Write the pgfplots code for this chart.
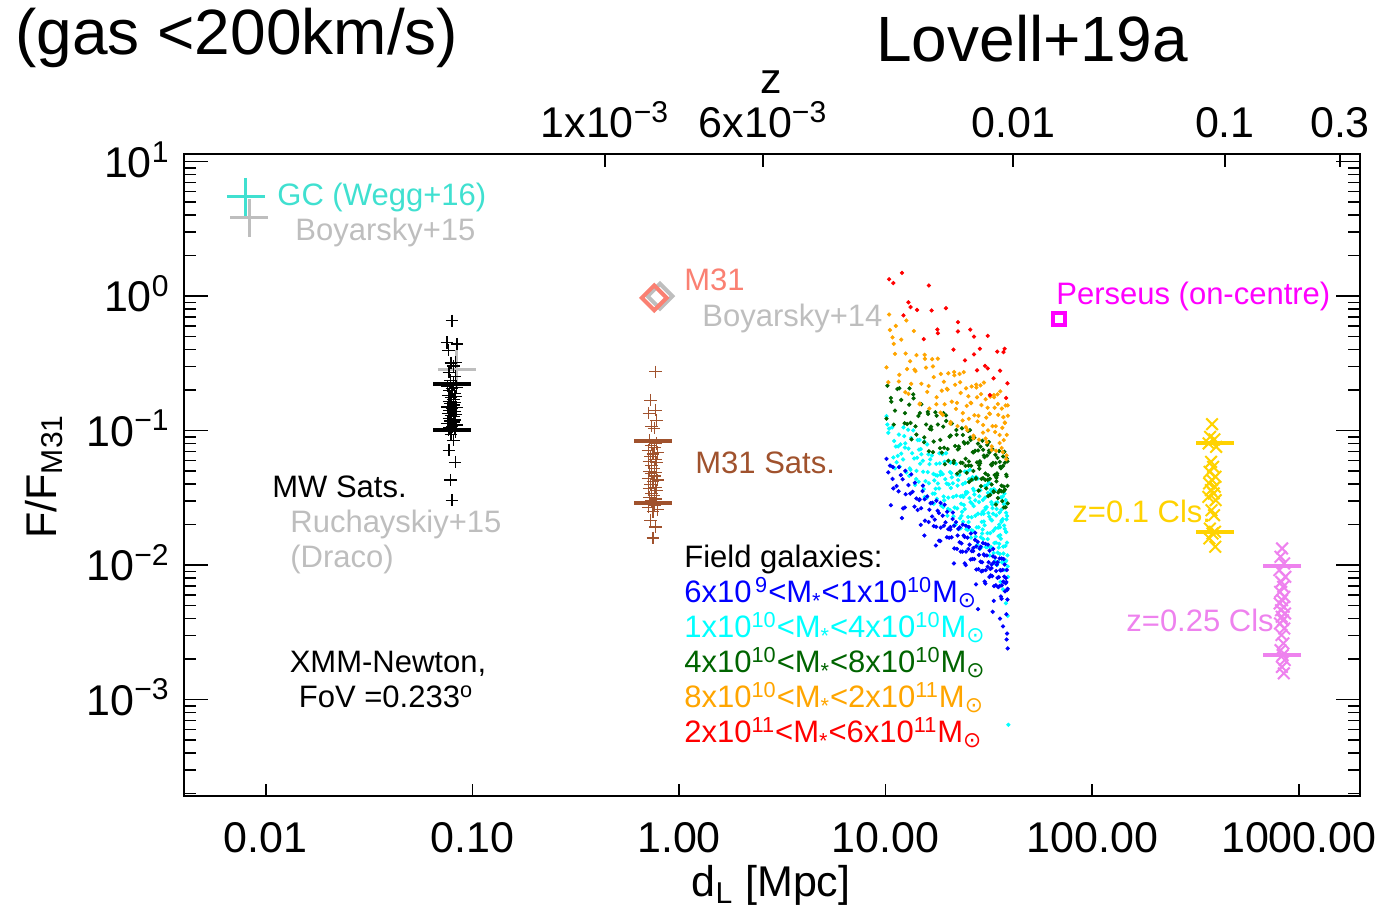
\documentclass[border=0pt]{standalone}
\usepackage{fontspec}
\setmainfont{Liberation Sans}
\newfontfamily\dejavu{DejaVu Sans}
\usepackage{pgfplots}
\pgfplotsset{compat=1.18}
\definecolor{turq}{RGB}{64,224,208}
\definecolor{lgray}{RGB}{190,190,190}
\definecolor{salmonc}{RGB}{250,128,114}
\definecolor{siennac}{RGB}{160,82,45}
\definecolor{magc}{RGB}{255,0,255}
\definecolor{goldc}{RGB}{255,210,0}
\definecolor{violetc}{RGB}{238,130,238}
\definecolor{fblue}{RGB}{0,0,255}
\definecolor{fcyan}{RGB}{0,255,255}
\definecolor{fgreen}{RGB}{0,100,0}
\definecolor{forange}{RGB}{255,165,0}
\definecolor{fred}{RGB}{255,0,0}
\newcommand{\ex}[1]{\textsuperscript{#1}}
\newcommand{\sun}{\textsubscript{\dejavu ⊙}}
\newcommand{\mst}{M\textsubscript{*}}
\begin{document}
\begin{tikzpicture}
\useasboundingbox (-92pt,-57.15pt) rectangle (599.5pt,397.85pt);
\begin{axis}[
  at={(0,0)}, anchor=south west,
  scale only axis, width=588pt, height=320.85pt,
  xmode=log, ymode=log,
  xmin=0.00402, xmax=1977, ymin=1.93e-4, ymax=11.4,
  axis line style={line width=1pt},
  every tick/.style={black, line width=0.75pt},
  xtick={0.01,0.1,1,10,100,1000},
  xticklabels={0.01,0.10,1.00,10.00,100.00,1000.00},
  xminorticks=false,
  xtick pos=left,
  ytick={0.001,0.01,0.1,1,10},
  yticklabels={10\ex{−3},10\ex{−2},10\ex{−1},10\ex{0},10\ex{1}},
  minor ytick={2e-4,3e-4,4e-4,5e-4,6e-4,7e-4,8e-4,9e-4,
    2e-3,3e-3,4e-3,5e-3,6e-3,7e-3,8e-3,9e-3,
    0.02,0.03,0.04,0.05,0.06,0.07,0.08,0.09,
    0.2,0.3,0.4,0.5,0.6,0.7,0.8,0.9,2,3,4,5,6,7,8,9},
  major tick length=12pt, minor tick length=6pt,
  xtick style={/pgfplots/major tick length=6pt},
  tick label style={font=\fontsize{21.5}{24}\selectfont},
  xticklabel style={anchor=north, inner sep=0pt, yshift=-13.4pt},
  yticklabel style={anchor=base east, inner sep=0pt, xshift=-7pt, yshift=-7.7pt},
]
% field galaxies
\addplot[only marks, mark=*, mark size=0.85pt, fcyan] coordinates {
(10.1,0.128) (10.9,0.0632) (10.3,0.0964) (11.2,0.0762) (10.2,0.111) (10.6,0.0548) (11.0,0.0838) (10.4,0.1035)
(12.6,0.0489) (11.5,0.0764) (12.2,0.1057) (11.3,0.0582) (12.3,0.0910) (11.9,0.0675) (12.45,0.0804) (11.7,0.0540)
(12.9,0.0735) (13.9,0.0394) (13.3,0.0881) (14.2,0.0628) (13.1,0.0524) (13.6,0.1005) (14.05,0.0437) (13.45,0.0679)
(15.6,0.0421) (14.5,0.0723) (15.2,0.0495) (14.3,0.0851) (15.3,0.0367) (14.9,0.0667) (15.45,0.0321) (14.7,0.0568)
(15.9,0.0789) (16.9,0.0340) (16.3,0.0564) (17.2,0.0426) (16.1,0.0667) (16.6,0.0288) (17.05,0.0476) (16.45,0.0612)
(18.6,0.0277) (17.5,0.0467) (18.2,0.0679) (17.3,0.0340) (18.3,0.0571) (17.9,0.0404) (18.45,0.0494) (17.7,0.0311)
(18.9,0.0475) (19.9,0.0233) (19.3,0.0586) (20.2,0.0398) (19.1,0.0324) (19.6,0.0679) (20.05,0.0262) (19.45,0.0436)
(21.6,0.0268) (20.5,0.0492) (21.2,0.0321) (20.3,0.0590) (21.3,0.0230) (20.9,0.0450) (21.45,0.0198) (20.7,0.0374)
(21.9,0.0566) (22.9,0.0223) (22.3,0.0390) (23.2,0.0286) (22.1,0.0470) (22.6,0.0185) (23.05,0.0324) (22.45,0.0429)
(24.6,0.0185) (23.5,0.0328) (24.2,0.0497) (23.3,0.0232) (24.3,0.0410) (23.9,0.0280) (24.45,0.0350) (23.7,0.0210)
(24.9,0.0347) (25.9,0.0160) (25.3,0.0436) (26.2,0.0286) (25.1,0.0228) (25.6,0.0512) (26.05,0.0182) (25.45,0.0315)
(27.6,0.0191) (26.5,0.0370) (27.2,0.0233) (26.3,0.0451) (27.3,0.0163) (26.9,0.0335) (27.45,0.0138) (26.7,0.0275)
(27.9,0.0440) (28.9,0.0161) (28.3,0.0294) (29.2,0.0210) (28.1,0.0360) (28.6,0.0132) (29.05,0.0240) (28.45,0.0325)
(30.6,0.0136) (29.5,0.0250) (30.2,0.0389) (29.3,0.0172) (30.3,0.0318) (29.9,0.0211) (30.45,0.0268) (29.7,0.0156)
(30.9,0.0270) (31.9,0.0118) (31.3,0.0344) (32.2,0.0220) (31.1,0.0173) (31.6,0.0409) (32.05,0.0136) (31.45,0.0244)
(33.6,0.0146) (32.5,0.0294) (33.2,0.0180) (32.3,0.0363) (33.3,0.0123) (32.9,0.0265) (33.45,0.0103) (32.7,0.0215)
(33.9,0.0359) (34.9,0.0124) (34.3,0.0234) (35.2,0.0164) (34.1,0.0290) (34.6,0.0100) (35.05,0.0190) (34.45,0.0261)
(36.6,0.0105) (35.5,0.0200) (36.2,0.0319) (35.3,0.0135) (36.3,0.0258) (35.9,0.0167) (36.45,0.0215) (35.7,0.0121)
(36.9,0.0220) (37.9,0.00920) (37.3,0.0284) (38.2,0.0177) (37.1,0.0137) (37.6,0.0340) (38.05,0.0106) (37.45,0.0197)
(38.9,0.0118) (38.3,0.0245) (38.7,0.0147) (38.1,0.0305) (39.0,0.00980) (38.5,0.0219) (39.1,0.00817) (38.4,0.0176)
(39.0,0.0042) (39.3,0.00065) (38.2,0.0052) (37.0,0.0066) (36.0,0.0075)
(10.75,0.1057) (11.45,0.0650) (11.8,0.0791) (11.1,0.0524) (11.6,0.0935)
(13.2,0.0511) (12.4,0.0748) (12.85,0.1016) (12.15,0.0611) (13.0,0.0461)
(13.75,0.0621) (14.45,0.0417) (14.8,0.0728) (14.1,0.0502) (14.6,0.0853)
(16.2,0.0406) (15.4,0.0830) (15.85,0.0317) (15.15,0.0597) (16.0,0.0492)
(16.75,0.0653) (17.45,0.0370) (17.8,0.0463) (17.1,0.0286) (17.6,0.0566)
(19.2,0.0303) (18.4,0.0470) (18.85,0.0668) (18.15,0.0372) (19.0,0.0270)
(19.75,0.0404) (20.45,0.0257) (20.8,0.0483) (20.1,0.0318) (20.6,0.0579)
(22.2,0.0264) (21.4,0.0587) (21.85,0.0200) (21.15,0.0406) (22.0,0.0328)
(22.75,0.0467) (23.45,0.0249) (23.8,0.0321) (23.1,0.0188) (23.6,0.0400)
(25.2,0.0209) (24.4,0.0337) (24.85,0.0495) (24.15,0.0261) (25.0,0.0183)
(25.75,0.0294) (26.45,0.0180) (26.8,0.0358) (26.1,0.0227) (26.6,0.0435)
(28.2,0.0191) (27.4,0.0452) (27.85,0.0142) (27.15,0.0303) (28.0,0.0241)
(28.75,0.0361) (29.45,0.0184) (29.8,0.0241) (29.1,0.0136) (29.6,0.0305)
(31.2,0.0156) (30.4,0.0260) (30.85,0.0391) (30.15,0.0198) (31.0,0.0136)
(31.75,0.0229) (32.45,0.0136) (32.8,0.0282) (32.1,0.0173) (32.6,0.0348)
(34.2,0.0147) (33.4,0.0367) (33.85,0.0107) (33.15,0.0241) (34.0,0.0188)
(34.75,0.0293) (35.45,0.0144) (35.8,0.0191) (35.1,0.0105) (35.6,0.0246)
(37.2,0.0122) (36.4,0.0210) (36.85,0.0323) (36.15,0.0157) (37.0,0.0106)
(37.7,0.0186) (38.35,0.0108) (38.7,0.0232) (38.0,0.0139) (38.55,0.0288)
};
\addplot[only marks, mark=*, mark size=0.85pt, fblue] coordinates {
(10.1,0.0617) (10.8,0.0437) (10.3,0.0490) (10.9,0.0372) (10.5,0.0550)
(12.5,0.0337) (11.6,0.0535) (12.1,0.0435) (11.3,0.0387) (12.4,0.0268)
(12.9,0.0394) (13.8,0.0272) (13.3,0.0473) (14.1,0.0313) (13.5,0.0351)
(15.5,0.0214) (14.6,0.0309) (15.1,0.0355) (14.3,0.0257) (15.4,0.0166)
(15.9,0.0324) (16.8,0.0230) (16.3,0.0258) (17.1,0.0195) (16.5,0.0289)
(18.5,0.0190) (17.6,0.0301) (18.1,0.0244) (17.3,0.0218) (18.4,0.0151)
(18.9,0.0233) (19.8,0.0161) (19.3,0.0281) (20.1,0.0185) (19.5,0.0208)
(21.5,0.0133) (20.6,0.0192) (21.1,0.0220) (20.3,0.0160) (21.4,0.0103)
(21.9,0.0209) (22.8,0.0148) (22.3,0.0166) (23.1,0.0126) (22.5,0.0186)
(24.5,0.0126) (23.6,0.0200) (24.1,0.0162) (23.3,0.0145) (24.4,0.0100)
(24.9,0.0160) (25.8,0.0110) (25.3,0.0192) (26.1,0.0127) (25.5,0.0142)
(27.5,0.00927) (26.6,0.0134) (27.1,0.0154) (26.3,0.0111) (27.4,0.00719)
(27.9,0.0149) (28.8,0.0106) (28.3,0.0119) (29.1,0.00900) (28.5,0.0133)
(30.5,0.00918) (29.6,0.0146) (30.1,0.0118) (29.3,0.0105) (30.4,0.00729)
(30.9,0.0118) (31.8,0.00817) (31.3,0.0142) (32.1,0.00938) (31.5,0.0105)
(33.5,0.00698) (32.6,0.0101) (33.1,0.0116) (32.3,0.00839) (33.4,0.00542)
(33.9,0.0114) (34.8,0.00805) (34.3,0.00904) (35.1,0.00686) (34.5,0.0101)
(36.5,0.00708) (35.6,0.0112) (36.1,0.00912) (35.3,0.00813) (36.4,0.00562)
(36.9,0.00923) (37.8,0.00638) (37.3,0.0111) (38.1,0.00733) (37.5,0.00822)
(38.9,0.00555) (38.2,0.00802) (38.6,0.00920) (39.0,0.00667) (38.4,0.00431)
(10.6,0.0279) (12.0,0.0224) (28.0,0.0047) (33.0,0.0045) (37.0,0.0035) (38.5,0.0028)
(35.8,0.0040) (39.0,0.0024) (38.7,0.0031) (14.8,0.0199) (17.5,0.0140)
(10.85,0.0536) (11.55,0.0354) (11.85,0.0467)
(13.15,0.0340) (12.45,0.0503) (12.15,0.0264)
(13.85,0.0410) (14.55,0.0304) (14.85,0.0265)
(16.15,0.0209) (15.45,0.0309) (15.15,0.0390)
(16.85,0.0291) (17.55,0.0193) (17.85,0.0254)
(19.15,0.0196) (18.45,0.0290) (18.15,0.0152)
(19.85,0.0249) (20.55,0.0184) (20.85,0.0161)
(22.15,0.0132) (21.45,0.0196) (21.15,0.0246)
(22.85,0.0191) (23.55,0.0126) (23.85,0.0166)
(25.15,0.0132) (24.45,0.0196) (24.15,0.0103)
(25.85,0.0172) (26.55,0.0127) (26.85,0.0111)
(28.15,0.00934) (27.45,0.0138) (27.15,0.0174)
(28.85,0.0137) (29.55,0.00909) (29.85,0.0120)
(31.15,0.00972) (30.45,0.0144) (30.15,0.00754)
(31.85,0.0128) (32.55,0.00951) (32.85,0.00828)
(34.15,0.00708) (33.45,0.0105) (33.15,0.0132)
(34.85,0.0105) (35.55,0.00697) (35.85,0.00918)
(37.15,0.00754) (36.45,0.0112) (36.15,0.00585)
(37.7,0.0101) (38.4,0.00749) (38.7,0.00652)
};
\addplot[only marks, mark=*, mark size=0.85pt, fgreen] coordinates {
(10.2,0.216) (11.1,0.141) (10.6,0.175) (10.1,0.123)
(12.4,0.135) (11.4,0.204) (12.7,0.112) (11.9,0.169)
(13.0,0.156) (14.1,0.0935) (13.6,0.186) (13.2,0.114)
(15.4,0.0891) (14.4,0.1285) (15.7,0.111) (14.9,0.157)
(16.0,0.138) (17.1,0.0830) (16.6,0.107) (16.2,0.0702)
(18.4,0.0853) (17.4,0.137) (18.7,0.0687) (17.9,0.111)
(19.0,0.107) (20.1,0.0597) (19.6,0.130) (19.2,0.0746)
(21.4,0.0598) (20.4,0.0902) (21.7,0.0769) (20.9,0.113)
(22.0,0.101) (23.1,0.0577) (22.6,0.0764) (22.2,0.0479)
(24.4,0.0618) (23.4,0.104) (24.7,0.0486) (23.9,0.0822)
(25.0,0.0811) (26.1,0.0431) (25.6,0.1007) (25.2,0.0550)
(27.4,0.0443) (26.4,0.0692) (27.7,0.0581) (26.9,0.0885)
(28.0,0.0800) (29.1,0.0438) (28.6,0.0592) (28.2,0.0358)
(30.4,0.0480) (29.4,0.0841) (30.7,0.0372) (29.9,0.0652)
(31.0,0.0653) (32.1,0.0333) (31.6,0.0824) (31.2,0.0431)
(33.4,0.0349) (32.4,0.0560) (33.7,0.0467) (32.9,0.0728)
(34.0,0.0661) (35.1,0.0348) (34.6,0.0480) (34.2,0.0282)
(36.4,0.0390) (35.4,0.0705) (36.7,0.0299) (35.9,0.0538)
(37.0,0.0546) (38.1,0.0269) (37.6,0.0697) (37.2,0.0353)
(39.0,0.0288) (38.4,0.0471) (38.9,0.0389) (38.6,0.0619)
(24.1,0.0802) (23.6,0.0575) (25.8,0.0851) (25.3,0.0590) (27.1,0.0708) (26.6,0.0501)
(28.8,0.0760) (28.4,0.0521) (30.1,0.0635) (29.6,0.0444) (31.8,0.0687) (31.3,0.0466)
(33.1,0.0575) (32.6,0.0398) (34.8,0.0627) (34.4,0.0420) (36.1,0.0525) (35.6,0.0360)
(37.8,0.0577) (37.3,0.0384)
(11.65,0.2065) (10.95,0.111) (10.65,0.164)
(12.35,0.1135) (13.05,0.2065) (13.35,0.0861)
(14.65,0.135) (13.95,0.1075) (13.65,0.174)
(15.35,0.0820) (16.05,0.133) (16.35,0.103)
(17.65,0.129) (16.95,0.0692) (16.65,0.102)
(18.35,0.0741) (19.05,0.135) (19.35,0.0562)
(20.65,0.0919) (19.95,0.0730) (19.65,0.118)
(21.35,0.0575) (22.05,0.0932) (22.35,0.0724)
(23.65,0.0928) (22.95,0.0498) (22.65,0.0737)
(24.35,0.0547) (25.05,0.0994) (25.35,0.0415)
(26.65,0.0690) (25.95,0.0548) (25.65,0.0889)
(27.35,0.0439) (28.05,0.0712) (28.35,0.0553)
(29.65,0.0720) (28.95,0.0387) (28.65,0.0572)
(30.35,0.0430) (31.05,0.0783) (31.35,0.0326)
(32.65,0.0551) (31.95,0.0438) (31.65,0.0710)
(33.35,0.0354) (34.05,0.0574) (34.35,0.0446)
(35.65,0.0586) (34.95,0.0315) (34.65,0.0466)
(36.35,0.0354) (37.05,0.0643) (37.35,0.0268)
(38.5,0.0458) (37.8,0.0364) (38.9,0.0590)
};
\addplot[only marks, mark=*, mark size=0.85pt, forange] coordinates {
(10.8,0.493) (10.1,0.295) (11.1,0.372) (10.3,0.229)
(11.6,0.232) (12.5,0.374) (11.9,0.475) (12.7,0.287)
(13.8,0.284) (12.9,0.1875) (14.1,0.364) (13.3,0.223)
(14.6,0.157) (15.5,0.342) (14.9,0.223) (15.7,0.294)
(16.8,0.340) (15.9,0.194) (17.1,0.250) (16.3,0.146)
(17.6,0.157) (18.5,0.264) (17.9,0.343) (18.7,0.198)
(19.8,0.205) (18.9,0.131) (20.1,0.267) (19.3,0.157)
(20.6,0.1125) (21.5,0.258) (20.9,0.164) (21.7,0.219)
(22.8,0.264) (21.9,0.145) (23.1,0.1905) (22.3,0.108)
(23.6,0.119) (24.5,0.2065) (23.9,0.272) (24.7,0.153)
(25.8,0.161) (24.9,0.1007) (26.1,0.213) (25.3,0.1225)
(26.6,0.0877) (27.5,0.209) (26.9,0.130) (27.7,0.177)
(28.8,0.217) (27.9,0.117) (29.1,0.155) (28.3,0.0857)
(29.6,0.0966) (30.5,0.171) (29.9,0.2275) (30.7,0.125)
(31.8,0.134) (30.9,0.0820) (32.1,0.179) (31.3,0.1005)
(32.6,0.0718) (33.5,0.177) (32.9,0.108) (33.7,0.148)
(34.8,0.186) (33.9,0.0977) (35.1,0.131) (34.3,0.0708)
(35.6,0.0809) (36.5,0.146) (35.9,0.196) (36.7,0.105)
(37.8,0.115) (36.9,0.0692) (38.1,0.154) (37.3,0.0851)
(38.4,0.0612) (39.0,0.154) (38.6,0.0929) (39.1,0.129)
(10.4,0.73) (10.5,0.56) (12.6,0.66) (13.7,0.55) (11.2,0.60)
(10.95,0.442) (11.65,0.260) (12.45,0.193) (13.15,0.328)
(13.95,0.277) (14.65,0.159) (15.45,0.366) (16.15,0.215)
(16.95,0.300) (17.65,0.177) (18.45,0.136) (19.15,0.231)
(19.95,0.202) (20.65,0.116) (21.45,0.273) (22.15,0.161)
(22.95,0.229) (23.65,0.135) (24.45,0.106) (25.15,0.180)
(25.95,0.160) (26.65,0.0918) (27.45,0.220) (28.15,0.129)
(28.95,0.187) (29.65,0.110) (30.45,0.0874) (31.15,0.148)
(31.95,0.133) (32.65,0.0763) (33.45,0.184) (34.15,0.108)
(34.95,0.158) (35.65,0.0928) (36.45,0.0743) (37.15,0.126)
(37.8,0.114) (38.5,0.0655)
};
\addplot[only marks, mark=*, mark size=0.85pt, fred] coordinates {
(10.4,1.334) (12.2,0.719) (13.2,0.830) (15.3,0.479) (16.7,0.783) (17.8,0.565) (19.6,0.813)
(21.3,0.400) (22.4,0.546) (24.2,0.333) (25.7,0.564) (26.8,0.369) (28.6,0.406) (30.3,0.303)
(31.2,0.507) (33.3,0.245) (34.7,0.387) (35.8,0.279) (37.7,0.406) (38.9,0.225)
(12.0,1.49) (10.9,1.25) (16.2,1.2) (12.9,0.90) (14.2,0.79) (22.4,0.64) (26.8,0.50)
(17.9,0.53) (37.2,0.383) (38.3,0.175) (32.0,0.184) (27.7,0.281) (31.2,0.29)
};
% Galactic centre
\addplot[only marks, mark=+, mark size=9.5pt, line width=1.5pt, lgray] coordinates {(0.0083,3.82)};
\addplot[only marks, mark=+, mark size=9.5pt, line width=1.5pt, turq] coordinates {(0.00802,5.47)};
% Draco
\addplot[only marks, mark=+, mark size=9.5pt, line width=1.5pt, lgray] coordinates {(0.0842,0.286)};
% MW sats
\addplot[only marks, mark=+, mark size=3.15pt, line width=0.6pt, black] coordinates {
(0.0797,0.655) (0.0753,0.453) (0.0843,0.440) (0.0765,0.397) (0.0830,0.323) (0.0788,0.318)
(0.0808,0.302) (0.0770,0.272) (0.0825,0.254) (0.0783,0.237) (0.0812,0.225) (0.0760,0.215)
(0.0840,0.21) (0.0797,0.205) (0.0776,0.198) (0.0818,0.19) (0.0765,0.183) (0.0830,0.18)
(0.0788,0.176) (0.0808,0.17) (0.0770,0.165) (0.0825,0.162) (0.0783,0.16) (0.0812,0.155)
(0.0760,0.15) (0.0840,0.148) (0.0797,0.146) (0.0776,0.142) (0.0818,0.138) (0.0765,0.134)
(0.0830,0.131) (0.0788,0.13) (0.0808,0.127) (0.0770,0.123) (0.0825,0.12) (0.0783,0.118)
(0.0812,0.116) (0.0760,0.113) (0.0840,0.11) (0.0797,0.107) (0.0776,0.105) (0.0818,0.104)
(0.0765,0.101) (0.0830,0.098) (0.0788,0.094) (0.0808,0.085) (0.0770,0.0716) (0.0825,0.0583)
(0.0783,0.0429) (0.0797,0.0304)
};
\addplot[only marks, mark=-, mark size=9.3pt, line width=2pt, black] coordinates {(0.0797,0.222) (0.0797,0.1007)};
% M31
\addplot[only marks, mark=square, mark size=4.4pt, line width=2pt, lgray, mark options={rotate=45}] coordinates {(0.809,1.0)};
\addplot[only marks, mark=square, mark size=4.4pt, line width=2pt, salmonc, mark options={rotate=45}] coordinates {(0.759,0.971)};
% M31 sats
\addplot[only marks, mark=+, mark size=3.15pt, line width=0.6pt, siennac] coordinates {
(0.770,0.2735) (0.728,0.1686) (0.768,0.142) (0.715,0.135) (0.780,0.1197) (0.738,0.108)
(0.758,0.1044) (0.722,0.085) (0.775,0.080) (0.733,0.078) (0.763,0.075) (0.710,0.071)
(0.790,0.069) (0.748,0.067) (0.728,0.064) (0.768,0.061) (0.715,0.059) (0.780,0.058)
(0.738,0.055) (0.758,0.052) (0.722,0.050) (0.775,0.049) (0.733,0.048) (0.763,0.046)
(0.710,0.044) (0.790,0.043) (0.748,0.042) (0.728,0.040) (0.768,0.038) (0.715,0.037)
(0.780,0.036) (0.738,0.034) (0.758,0.033) (0.722,0.032) (0.775,0.031) (0.733,0.030)
(0.763,0.028) (0.710,0.027) (0.790,0.026) (0.748,0.025) (0.728,0.0216) (0.768,0.0192)
(0.748,0.0159)
};
\addplot[only marks, mark=-, mark size=9.5pt, line width=2pt, siennac] coordinates {(0.748,0.0836) (0.748,0.0292)};
% Perseus
\addplot[only marks, mark=square, mark size=3pt, line width=2pt, magc] coordinates {(69.3,0.671)};
% z=0.1 clusters
\addplot[only marks, mark=x, mark size=4.1pt, line width=1pt, goldc] coordinates {
(380,0.1117) (372,0.0899) (390,0.0861) (366,0.0803) (398,0.0758) (376,0.0586) (385,0.0538)
(370,0.0494) (395,0.0454) (380,0.0429) (368,0.0405) (392,0.0382) (375,0.0361) (387,0.0341)
(365,0.0322) (396,0.0304) (378,0.0256) (389,0.0235) (371,0.0187) (393,0.0177) (382,0.0172)
(369,0.0158) (394,0.0137)
};
\addplot[only marks, mark=-, mark size=9.5pt, line width=2pt, goldc] coordinates {(391,0.0803) (391,0.0177)};
% z=0.25 clusters
\addplot[only marks, mark=x, mark size=4.1pt, line width=1pt, violetc] coordinates {
(830,0.0133) (815,0.01153) (848,0.0103) (805,0.00918) (860,0.00819) (822,0.00751) (840,0.0069)
(812,0.00633) (852,0.00581) (830,0.00549) (808,0.00519) (845,0.0049) (820,0.00462) (858,0.00437)
(826,0.00413) (838,0.0039) (810,0.00368) (850,0.00338) (824,0.00302) (842,0.00262) (816,0.00233)
(835,0.00214) (855,0.00197) (828,0.00175) (846,0.00157)
};
\addplot[only marks, mark=-, mark size=9.5pt, line width=2pt, violetc] coordinates {(830,0.00988) (830,0.00214)};
\end{axis}
% top redshift axis
\begin{axis}[
  at={(0,0)}, anchor=south west,
  scale only axis, width=588pt, height=320.85pt,
  xmode=log, ymode=log,
  xmin=0.00402, xmax=1977, ymin=1.93e-4, ymax=11.4,
  axis line style={line width=1pt},
  every tick/.style={black, line width=0.75pt},
  ytick=\empty, yminorticks=false,
  xtick={0.438,2.55,41.4,439,1582},
  xticklabels={1x10\ex{−3},6x10\ex{−3},0.01,0.1,0.3},
  xminorticks=false,
  xtick pos=right, xticklabel pos=right,
  major tick length=6.5pt,
  tick label style={font=\fontsize{21.5}{24}\selectfont},
  xticklabel style={anchor=base, inner sep=0pt, yshift=8.3pt},
]
\end{axis}
\begin{scope}[every node/.style={inner sep=0pt}]
% titles and axis labels
\node[anchor=base west, font=\fontsize{32}{36}\selectfont] at (-84.5pt,370.35pt) {(gas <200km/s)};
\node[anchor=base west, font=\fontsize{32}{36}\selectfont] at (346pt,366.85pt) {Lovell+19a};
\node[anchor=base, font=\fontsize{21.5}{24}\selectfont] at (293.5pt,351pt) {z};
\node[anchor=base, font=\fontsize{21.5}{24}\selectfont] at (293.5pt,-50.65pt) {d\textsubscript{L} [Mpc]};
\node[rotate=90, font=\fontsize{21.5}{24}\selectfont] at (-70pt,159.6pt) {F/F\textsubscript{M31}};
% annotations
\begin{scope}[every node/.append style={anchor=base west, font=\fontsize{15.5}{17.5}\selectfont}]
\node[text=turq] at (46.5pt,294.85pt) {GC (Wegg+16)};
\node[text=lgray] at (55.5pt,277.35pt) {Boyarsky+15};
\node[text=salmonc] at (250pt,252.35pt) {M31};
\node[text=lgray] at (259pt,234.35pt) {Boyarsky+14};
\node[text=magc] at (436pt,245.35pt) {Perseus (on-centre)};
\node[text=siennac] at (255.5pt,160.85pt) {M31 Sats.};
\node[text=black] at (44pt,148.85pt) {MW Sats.};
\node[text=lgray] at (53pt,131.35pt) {Ruchayskiy+15};
\node[text=lgray] at (53pt,113.85pt) {(Draco)};
\node[text=black] at (250pt,113.85pt) {Field galaxies:};
\node[text=fblue] at (250pt,96.35pt) {6x10\ex{\,9}<\mst<1x10\ex{10}M\sun};
\node[text=fcyan] at (250pt,78.85pt) {1x10\ex{10}<\mst<4x10\ex{10}M\sun};
\node[text=fgreen] at (250pt,61.35pt) {4x10\ex{10}<\mst<8x10\ex{10}M\sun};
\node[text=forange] at (250pt,43.85pt) {8x10\ex{10}<\mst<2x10\ex{11}M\sun};
\node[text=fred] at (250pt,26.35pt) {2x10\ex{11}<\mst<6x10\ex{11}M\sun};
\node[text=goldc] at (444pt,136.35pt) {z=0.1 Cls.};
\node[text=violetc] at (471pt,81.85pt) {z=0.25 Cls};
\end{scope}
\node[anchor=base, font=\fontsize{15.5}{17.5}\selectfont] at (102pt,61.35pt) {XMM-Newton,};
\node[anchor=base, font=\fontsize{15.5}{17.5}\selectfont] at (101pt,43.85pt) {FoV =0.233\ex{o}};
\end{scope}
\end{tikzpicture}
\end{document}
